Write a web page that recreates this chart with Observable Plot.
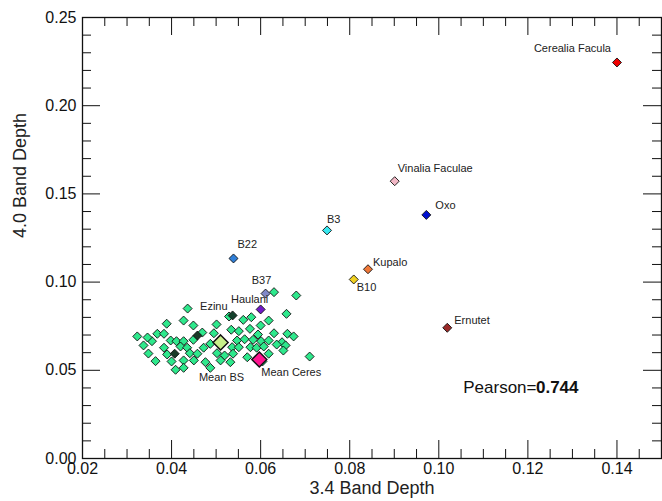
<!DOCTYPE html>
<html><head><meta charset="utf-8">
<script src="https://cdn.jsdelivr.net/npm/d3@7"></script>
<script src="https://cdn.jsdelivr.net/npm/@observablehq/plot@0.6"></script>
<style>body{margin:0;background:#fff}</style>
</head><body><div id="chart"></div>
<script>
// ---- data ----
const clusterX = [0.0630,0.0680,0.0529,0.0658,0.0561,0.0579,0.0618,0.0427,0.0389,0.0449,0.0501,0.0600,0.0534,0.0551,0.0576,0.0368,0.0383,0.0469,0.0495,0.0630,0.0660,0.0594,0.0398,0.0411,0.0427,0.0449,0.0356,0.0547,0.0564,0.0583,0.0601,0.0618,0.0648,0.0487,0.0383,0.0420,0.0435,0.0472,0.0536,0.0551,0.0577,0.0591,0.0607,0.0636,0.0656,0.0390,0.0441,0.0458,0.0502,0.0519,0.0538,0.0570,0.0618,0.0651,0.0710,0.0364,0.0427,0.0450,0.0476,0.0510,0.0532,0.0409,0.0427,0.0487,0.0323,0.0346,0.0337,0.0436,0.0348,0.0400,0.0604,0.0674];
const clusterY = [0.0943,0.0924,0.0805,0.0820,0.0786,0.0801,0.0782,0.0782,0.0764,0.0754,0.0760,0.0754,0.0730,0.0722,0.0735,0.0707,0.0707,0.0714,0.0710,0.0710,0.0707,0.0703,0.0669,0.0665,0.0665,0.0673,0.0665,0.0669,0.0676,0.0673,0.0665,0.0669,0.0659,0.0650,0.0628,0.0635,0.0628,0.0628,0.0631,0.0631,0.0631,0.0628,0.0635,0.0646,0.0641,0.0590,0.0597,0.0594,0.0597,0.0584,0.0594,0.0574,0.0594,0.0612,0.0578,0.0552,0.0556,0.0556,0.0546,0.0556,0.0546,0.0503,0.0514,0.0514,0.0692,0.0686,0.0641,0.0850,0.0595,0.0550,0.0550,0.0692];
const darkX = [0.0458,0.0407];
const darkY = [0.0697,0.0594];

const namedLabels = ["Cerealia Facula","Vinalia Faculae","Oxo","B3","Kupalo","B10","Ernutet","B22","B37","Haulani","Ezinu"];
const namedX = [0.1400,0.0901,0.0972,0.0749,0.0841,0.0809,0.1019,0.0539,0.0611,0.0600,0.0537];
const namedY = [0.2245,0.1572,0.1381,0.1293,0.1073,0.1015,0.0741,0.1134,0.0935,0.0845,0.0811];
const namedColors = ["#ee0000","#f2b8c6","#0010d0","#38e8f0","#f07838","#f0d020","#9a2a28","#2f7fd8","#8088c8","#7018c8","#14402c"];

const meanLabels = ["Mean BS","Mean Ceres"];
const meanX = [0.0510,0.0597];
const meanY = [0.0658,0.0561];
const meanColors = ["#c8f08a","#ff1490"];

const xMajorTicks = [0.02,0.04,0.06,0.08,0.10,0.12,0.14];
const xMinorTicks = [0.025,0.03,0.035,0.045,0.05,0.055,0.065,0.07,0.075,0.085,0.09,0.095,0.105,0.11,0.115,0.125,0.13,0.135,0.145];
const yMajorTicks = [0,0.05,0.10,0.15,0.20,0.25];
const yMinorTicks = [0.01,0.02,0.03,0.04,0.06,0.07,0.08,0.09,0.11,0.12,0.13,0.14,0.16,0.17,0.18,0.19,0.21,0.22,0.23,0.24];
const xTitle = "3.4 Band Depth";
const yTitle = "4.0 Band Depth";
const pearsonLabel = "Pearson=";
const pearsonValue = "0.744";

// ---- styling/layout config ----
const labelStyle = {
  "Cerealia Facula": {a:"end", dx:-6, dy:-14},
  "Vinalia Faculae": {a:"start", dx:3, dy:-13},
  "Oxo": {a:"start", dx:9, dy:-9},
  "B3": {a:"start", dx:0, dy:-11},
  "Kupalo": {a:"start", dx:5, dy:-7},
  "B10": {a:"start", dx:3, dy:8},
  "Ernutet": {a:"start", dx:7, dy:-7},
  "B22": {a:"start", dx:4, dy:-14},
  "B37": {a:"middle", dx:-4, dy:-13},
  "Haulani": {a:"middle", dx:-11, dy:-10},
  "Ezinu": {a:"end", dx:-5, dy:-9},
  "Mean BS": {a:"middle", dx:1, dy:35},
  "Mean Ceres": {a:"start", dx:2, dy:13}
};

const W = 662, H = 501;
const mT = 17, mR = 1, mB = 43, mL = 82;
const innerW = W - mL - mR, innerH = H - mT - mB;
const MAJ = 18, MIN = 9;
const font = "'Liberation Sans', Arial, Helvetica, sans-serif";

// square diamond symbol
const diamond = {draw(ctx, size) { const r = Math.sqrt(size / Math.PI); ctx.moveTo(0,-r); ctx.lineTo(r,0); ctx.lineTo(0,r); ctx.lineTo(-r,0); ctx.closePath(); }};

const cluster = clusterX.map((x,i) => ({x, y: clusterY[i]}));
const dark = darkX.map((x,i) => ({x, y: darkY[i]}));
const named = namedLabels.map((name,i) => ({name, x: namedX[i], y: namedY[i], color: namedColors[i]}));
const means = meanLabels.map((name,i) => ({name, x: meanX[i], y: meanY[i], color: meanColors[i]}));

const labelMarks = [...named, ...means].map(d => {
  const s = labelStyle[d.name];
  return Plot.text([d], {x:"x", y:"y", text:"name", textAnchor:s.a, dx:s.dx, dy:s.dy, fontSize:11, fill:"#222"});
});

const plot = Plot.plot({
  width: W, height: H,
  marginTop: mT, marginRight: mR, marginBottom: mB, marginLeft: mL,
  style: {fontFamily: font, fontSize: "16px", color: "#111", background: "#fff", overflow: "visible"},
  x: {domain: [0.02, 0.15], ticks: xMajorTicks, tickFormat: d3.format(".2f"), tickSize: 0, tickPadding: 4, label: null},
  y: {domain: [0, 0.25], ticks: yMajorTicks, tickFormat: d3.format(".2f"), tickSize: 0, tickPadding: 6, label: null},
  marks: [
    Plot.ruleX(xMajorTicks, {stroke:"#111", insetTop: innerH - MAJ}),
    Plot.ruleX(xMajorTicks, {stroke:"#111", insetBottom: innerH - MAJ}),
    Plot.ruleX(xMinorTicks, {stroke:"#111", insetTop: innerH - MIN}),
    Plot.ruleX(xMinorTicks, {stroke:"#111", insetBottom: innerH - MIN}),
    Plot.ruleY(yMajorTicks, {stroke:"#111", insetRight: innerW - MAJ}),
    Plot.ruleY(yMajorTicks, {stroke:"#111", insetLeft: innerW - MAJ}),
    Plot.ruleY(yMinorTicks, {stroke:"#111", insetRight: innerW - MIN}),
    Plot.ruleY(yMinorTicks, {stroke:"#111", insetLeft: innerW - MIN}),
    Plot.frame({stroke:"#111", strokeWidth: 1.3}),
    Plot.dot(cluster, {x:"x", y:"y", symbol: diamond, r: 4.5, fill:"#2ee88c", stroke:"#111", strokeWidth: 0.9}),
    Plot.dot(dark, {x:"x", y:"y", symbol: diamond, r: 4.5, fill:"#1a3a28", stroke:"#111", strokeWidth: 0.9}),
    Plot.dot(named, {x:"x", y:"y", symbol: diamond, r: 4.5, fill:"color", stroke:"#111", strokeWidth: 0.9}),
    Plot.dot(means, {x:"x", y:"y", symbol: diamond, r: 7.5, fill:"color", stroke:"#111", strokeWidth: 1.5}),
    ...labelMarks,
    Plot.text([xTitle], {frameAnchor:"bottom", dy: 35, text: d => d, fontSize: 18, fill:"#222"}),
    Plot.text([yTitle], {frameAnchor:"left", dx: -62, rotate: -90, text: d => d, fontSize: 18, fill:"#222"}),
    Plot.text([pearsonValue], {frameAnchor:"bottom-right", dx: -83, dy: -66, textAnchor:"end", text: d => d, fontSize: 17, fontWeight:"bold", fill:"#111"}),
    Plot.text([pearsonLabel], {frameAnchor:"bottom-right", dx: -125, dy: -66, textAnchor:"end", text: d => d, fontSize: 17, fill:"#111"})
  ]
});
document.getElementById("chart").appendChild(plot);
</script>
</body></html>
